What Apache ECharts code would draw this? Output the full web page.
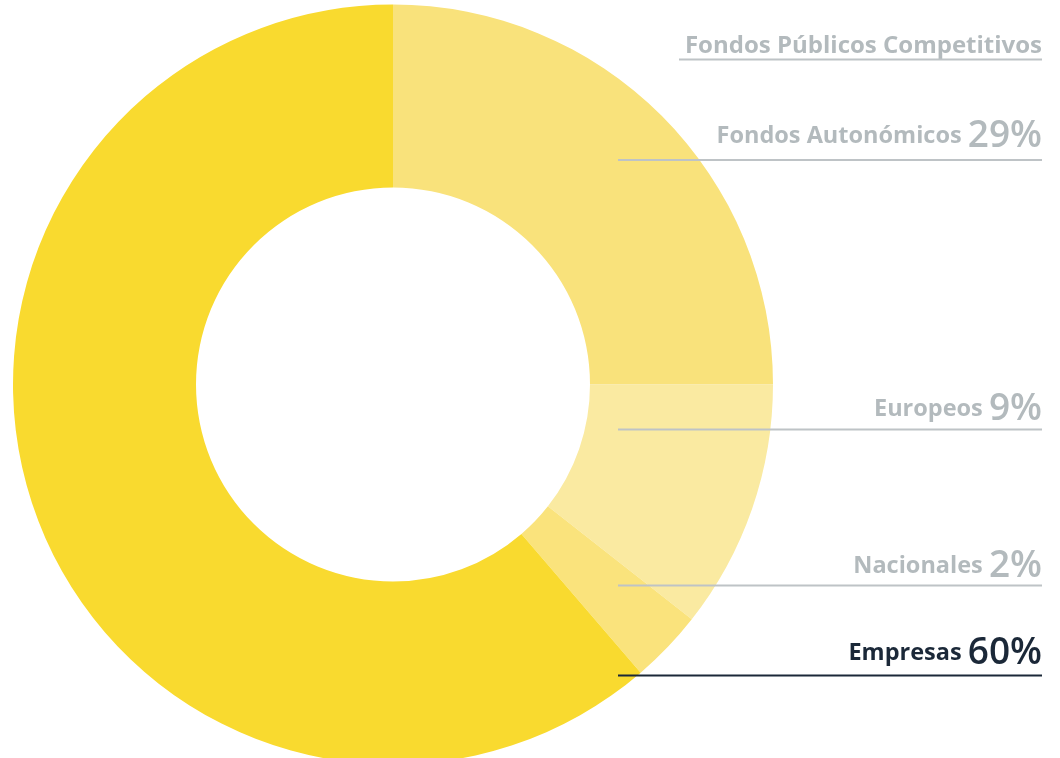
<!DOCTYPE html>
<html>
<head>
<meta charset="utf-8">
<script src="https://cdn.jsdelivr.net/npm/echarts@6/dist/echarts.min.js"></script>
<style>
  html, body { margin: 0; padding: 0; background: #fff; }
  #main { width: 1060px; height: 758px; }
</style>
</head>
<body>
<div id="main"></div>
<script>
// datos del gráfico (orden horario desde las 12)
var names = ['Fondos Autonómicos', 'Europeos', 'Nacionales', 'Empresas']
var values = [25.0, 10.6, 3.1, 61.3]           // tamaño de los sectores
var pctLabels = ['29%', '9%', '2%', '60%']       // textos que aparecen en las etiquetas
var colors = ['#F9E27B', '#FAEAA1', '#FAE37C', '#F9DA2F']
var header = 'Fondos Públicos Competitivos'

// posiciones de las etiquetas (parte baja del texto y línea inferior)
var labelBase = [155, 428, 585, 672]
var lineY = [160, 429.5, 585.5, 675.5]
var textColor = ['#B3BABD', '#B3BABD', '#B3BABD', '#1B2838']
var lineColor = ['#BEC3C6', '#BEC3C6', '#BEC3C6', '#1B2838']

var myChart = echarts.init(document.getElementById('main'))

var graphic = []
// cabecera subrayada
graphic.push({
  type: 'text',
  x: 1042,
  y: 58,
  z: 100,
  style: {
    text: header,
    font: 'bold 24px "Open Sans"',
    fill: '#B3BABD',
    align: 'right',
    verticalAlign: 'bottom'
  }
})
graphic.push({
  type: 'line',
  z: 100,
  shape: { x1: 679, y1: 59.5, x2: 1042, y2: 59.5 },
  style: { stroke: '#BEC3C6', lineWidth: 2 }
})

for (var i = 0; i < names.length; i++) {
  graphic.push({
    type: 'text',
    x: 1042,
    y: labelBase[i],
    z: 100,
    style: {
      text: '{n|' + names[i] + ' }{p|' + pctLabels[i] + '}',
      align: 'right',
      verticalAlign: 'bottom',
      rich: {
        n: { font: 'bold 23.5px "Open Sans"', fill: textColor[i] },
        p: { font: '600 37px "Open Sans"', fill: textColor[i] }
      }
    }
  })
  graphic.push({
    type: 'line',
    z: 100,
    shape: { x1: 618, y1: lineY[i], x2: 1042, y2: lineY[i] },
    style: { stroke: lineColor[i], lineWidth: 2 }
  })
}

var option = {
  animation: false,
  color: colors,
  series: [
    {
      type: 'pie',
      center: [393, 384.5],
      radius: [197, 380],
      startAngle: 90,
      clockwise: true,
      z: 1,
      label: { show: false },
      labelLine: { show: false },
      emphasis: { disabled: true },
      itemStyle: { borderWidth: 0 },
      data: names.map(function (n, i) {
        return { name: n, value: values[i] }
      })
    }
  ],
  graphic: graphic
}

myChart.setOption(option)
</script>
</body>
</html>
